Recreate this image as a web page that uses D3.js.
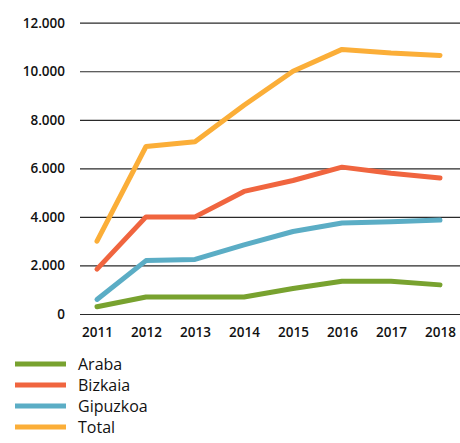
<!DOCTYPE html>
<html>
<head>
<meta charset="utf-8">
<script src="https://cdn.jsdelivr.net/npm/d3@7"></script>
<style>
    body { margin: 0; background: #fff; }
    svg { display: block; }
    .axis text { font-family: 'Open Sans', sans-serif; font-size: 13.5px; font-weight: 600; fill: #111; }
    .legend text { font-family: 'Open Sans', sans-serif; font-size: 16px; fill: #111; }
</style>
</head>
<body>
<div id="chart"></div>
<script>
// DATA
const years = ['2011', '2012', '2013', '2014', '2015', '2016', '2017', '2018']
const araba = [300, 700, 700, 700, 1050, 1350, 1350, 1200]
const bizkaia = [1850, 4000, 4000, 5050, 5500, 6050, 5800, 5600]
const gipuzkoa = [600, 2200, 2250, 2850, 3400, 3750, 3800, 3870]
const total = [3000, 6900, 7100, 8600, 10000, 10900, 10750, 10650]
const yTicks = [0, 2000, 4000, 6000, 8000, 10000, 12000]
const seriesNames = ['Araba', 'Bizkaia', 'Gipuzkoa', 'Total']

const colors = {
    Araba: '#78a22f',
    Bizkaia: '#f0653f',
    Gipuzkoa: '#5badc5',
    Total: '#fbae38'
}

const series = [
    { name: 'Araba', values: araba },
    { name: 'Bizkaia', values: bizkaia },
    { name: 'Gipuzkoa', values: gipuzkoa },
    { name: 'Total', values: total }
]

const width = 460
const height = 443

const svg = d3.select('#chart').append('svg')
    .attr('width', width)
    .attr('height', height)

const x = d3.scalePoint()
    .domain(years)
    .range([97, 440])

const y = d3.scaleLinear()
    .domain([0, 12000])
    .range([314, 22.7])

const fmt = d => d3.format(',')(d).replace(/,/g, '.')

// gridlines + y labels
const yAxis = d3.axisLeft(y)
    .tickValues(yTicks)
    .tickFormat(fmt)
    .tickSize(-(width - 80))
    .tickPadding(15)

svg.append('g')
    .attr('class', 'axis y')
    .attr('transform', 'translate(80, 0)')
    .call(yAxis)
    .call(g => g.select('.domain').remove())
    .call(g => g.selectAll('line').attr('stroke', '#2a2a2a').attr('stroke-width', 1.2))

// x labels
const xAxis = d3.axisBottom(x).tickSize(0).tickPadding(13)

svg.append('g')
    .attr('class', 'axis x')
    .attr('transform', 'translate(0, 314)')
    .call(xAxis)
    .call(g => g.select('.domain').remove())

// lines
const line = d3.line()
    .x((d, i) => x(years[i]))
    .y(d => y(d))

svg.selectAll('.series')
    .data(series)
    .enter().append('path')
    .attr('class', 'series')
    .attr('d', d => line(d.values))
    .attr('fill', 'none')
    .attr('stroke', d => colors[d.name])
    .attr('stroke-width', 5)
    .attr('stroke-linecap', 'round')
    .attr('stroke-linejoin', 'round')

// legend
const legend = svg.append('g')
    .attr('class', 'legend')
    .attr('transform', 'translate(15, 364)')

const items = legend.selectAll('g')
    .data(seriesNames)
    .enter().append('g')
    .attr('transform', (d, i) => `translate(0, ${i * 21})`)

items.append('line')
    .attr('x1', 0)
    .attr('x2', 51)
    .attr('stroke', d => colors[d])
    .attr('stroke-width', 5)

items.append('text')
    .attr('x', 63)
    .attr('dy', '0.35em')
    .text(d => d)
</script>
</body>
</html>
